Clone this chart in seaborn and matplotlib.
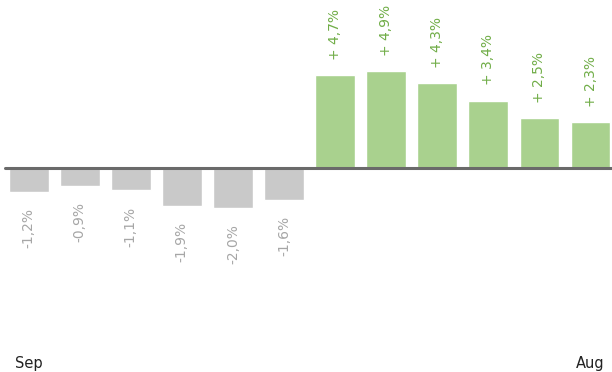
import matplotlib
matplotlib.use("Agg")
import matplotlib.pyplot as plt
import matplotlib.transforms as mtransforms
import seaborn as sns
import pandas as pd

months = ["Sep", "Oct", "Nov", "Dec", "Jan", "Feb", "Mar", "Apr", "May", "Jun", "Jul", "Aug"]
changes = [-1.2, -0.9, -1.1, -1.9, -2.0, -1.6, 4.7, 4.9, 4.3, 3.4, 2.5, 2.3]
shown_months = ["Sep", "Aug"]

sns.set_style("white")
plt.rcParams["font.family"] = ["DejaVu Sans"]

df = pd.DataFrame({"month": months, "change": changes})
df["sign"] = ["neg" if v < 0 else "pos" for v in changes]

bar_colors = {"neg": "#c9c9c9", "pos": "#a9d18e"}
text_colors = {"neg": "#a6a6a6", "pos": "#70ad47"}

fig = plt.figure(figsize=(6.12, 3.72), dpi=100)
ax = fig.add_axes([0, 0, 1, 1])

sns.barplot(data=df, x="month", y="change", hue="sign", palette=bar_colors,
            order=months, dodge=False, width=0.78, legend=False, ax=ax,
            saturation=1)

ax.set_xlim(-0.56, 11.42)
ax.set_ylim(-10.3, 8.48)
ax.axhline(0, xmin=0.008, xmax=1, color="#6a6a6a", lw=2.2, zorder=5)

for i, v in enumerate(changes):
    if v < 0:
        label = f"{v:.1f}%".replace(".", ",")
        ax.annotate(label, (i, v), xytext=(0, -12), textcoords="offset points",
                    rotation=90, ha="center", va="top", fontsize=10,
                    color=text_colors["neg"])
    else:
        label = f"+ {v:.1f}%".replace(".", ",")
        ax.annotate(label, (i, v), xytext=(0, 11), textcoords="offset points",
                    rotation=90, ha="center", va="bottom", fontsize=10,
                    color=text_colors["pos"])

trans = mtransforms.blended_transform_factory(ax.transData, ax.transAxes)
for m in shown_months:
    ax.text(months.index(m), 0.024, m, transform=trans, ha="center", va="center",
            fontsize=10.5, color="#222222")

ax.set_xticks([])
ax.set_yticks([])
ax.set_xlabel("")
ax.set_ylabel("")
for s in ax.spines.values():
    s.set_visible(False)

fig.savefig("out.png", dpi=100)
